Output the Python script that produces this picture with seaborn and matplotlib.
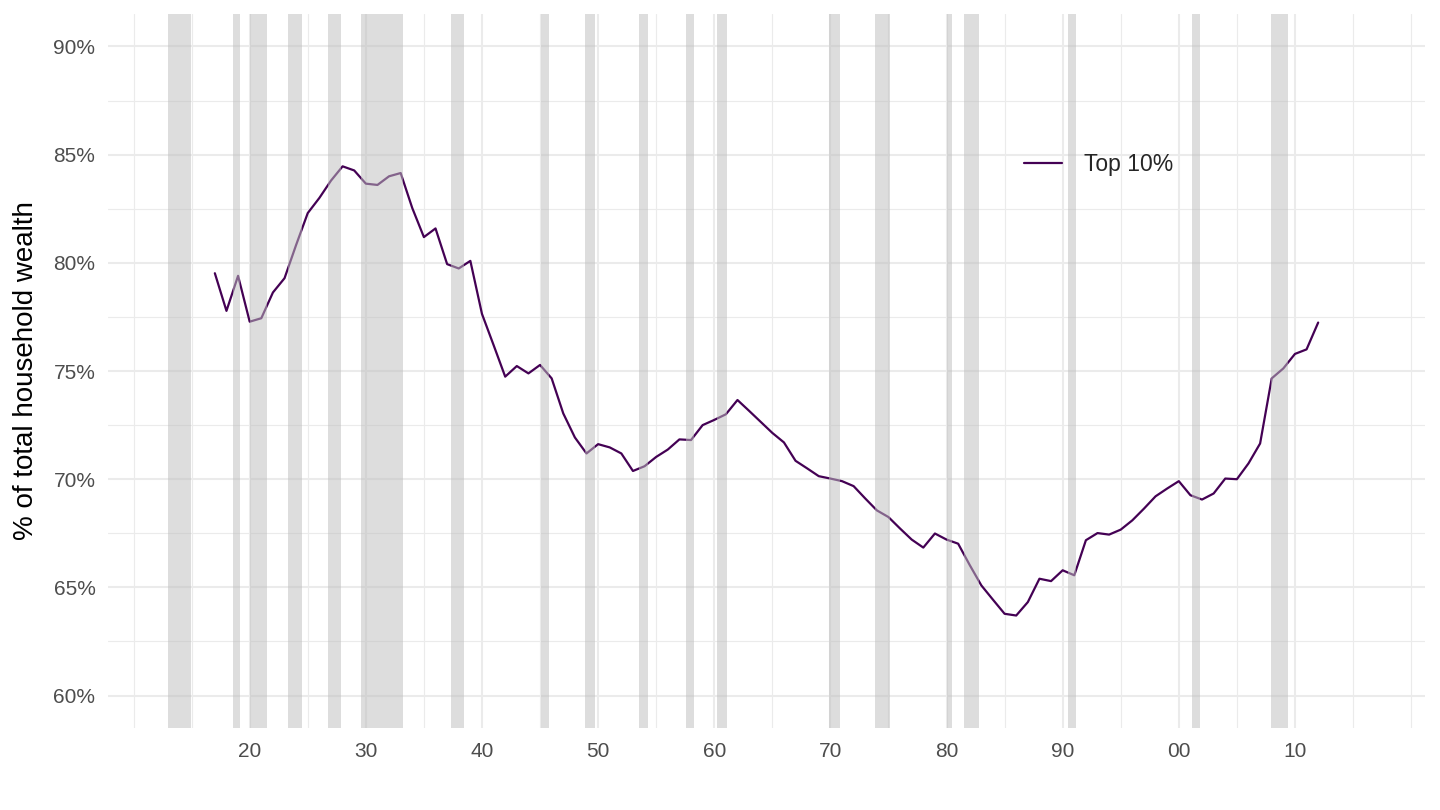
import matplotlib
matplotlib.use("Agg")
import matplotlib.pyplot as plt
from matplotlib.ticker import PercentFormatter
import seaborn as sns

# top 10% share of household wealth, 1917-2012
years = list(range(1917, 2013))
top10 = [
    0.7952, 0.7778, 0.7940, 0.7728, 0.7744, 0.7863, 0.7929, 0.8083, 0.8230, 0.8300,  # 1917-1926
    0.8380, 0.8446, 0.8427, 0.8366, 0.8360, 0.8400, 0.8415, 0.8253, 0.8119, 0.8159,  # 1927-1936
    0.7994, 0.7974, 0.8009, 0.7764, 0.7620, 0.7474, 0.7523, 0.7489, 0.7528, 0.7466,  # 1937-1946
    0.7304, 0.7193, 0.7119, 0.7162, 0.7147, 0.7119, 0.7038, 0.7060, 0.7103, 0.7137,  # 1947-1956
    0.7184, 0.7181, 0.7250, 0.7274, 0.7300, 0.7366, 0.7316, 0.7265, 0.7214, 0.7170,  # 1957-1966
    0.7085, 0.7050, 0.7014, 0.7003, 0.6991, 0.6968, 0.6911, 0.6856, 0.6825, 0.6772,  # 1967-1976
    0.6721, 0.6684, 0.6749, 0.6721, 0.6702, 0.6603, 0.6509, 0.6443, 0.6378, 0.6370,  # 1977-1986
    0.6432, 0.6540, 0.6529, 0.6579, 0.6556, 0.6718, 0.6751, 0.6744, 0.6767, 0.6810,  # 1987-1996
    0.6864, 0.6921, 0.6957, 0.6991, 0.6926, 0.6906, 0.6934, 0.7003, 0.7000, 0.7073,  # 1997-2006
    0.7165, 0.7466, 0.7512, 0.7579, 0.7600, 0.7724,                                  # 2007-2012
]

# NBER recessions (peak, trough)
rec_start = ["1913-01", "1918-08", "1920-01", "1923-05", "1926-10", "1929-08", "1937-05",
             "1945-02", "1948-11", "1953-07", "1957-08", "1960-04", "1969-12", "1973-11",
             "1980-01", "1981-07", "1990-07", "2001-03", "2007-12"]
rec_end = ["1914-12", "1919-03", "1921-07", "1924-07", "1927-11", "1933-03", "1938-06",
           "1945-10", "1949-10", "1954-05", "1958-04", "1961-02", "1970-11", "1975-03",
           "1980-07", "1982-11", "1991-03", "2001-11", "2009-06"]

major_years = list(range(1920, 2011, 10))
minor_years = [y for y in range(1910, 2021, 5) if y not in major_years]
y_major = [0.60, 0.65, 0.70, 0.75, 0.80, 0.85, 0.90]
y_minor = [0.625, 0.675, 0.725, 0.775, 0.825, 0.875]


def to_decimal(ym):
    y, m = ym.split("-")
    return int(y) + (int(m) - 1) / 12


sns.set_theme(style="white")
plt.rcParams["font.family"] = ["Liberation Sans", "DejaVu Sans"]

fig = plt.figure(figsize=(14.4, 8.1), dpi=100)
ax = fig.add_axes([0.075, 0.1012, 0.9146, 0.8815])

sns.lineplot(x=years, y=top10, color="#440154", lw=1.6, ax=ax, label="Top 10%", zorder=2)

for s, e in zip(rec_start, rec_end):
    ax.axvspan(to_decimal(s), to_decimal(e), color="#BEBEBE", alpha=0.52, lw=0, zorder=3)

ax.set_xlim(1907.8, 2021.2)
ax.set_ylim(0.585, 0.915)
ax.set_xticks(major_years)
ax.set_xticklabels([f"{y % 100:02d}" for y in major_years])
ax.set_xticks(minor_years, minor=True)
ax.set_yticks(y_major)
ax.set_yticks(y_minor, minor=True)
ax.yaxis.set_major_formatter(PercentFormatter(1.0, decimals=0))

ax.grid(which="major", color="#EBEBEB", lw=1.5, zorder=0)
ax.grid(which="minor", color="#EBEBEB", lw=0.85, zorder=0)
ax.set_axisbelow(True)
for sp in ax.spines.values():
    sp.set_visible(False)
ax.tick_params(which="both", length=0)
ax.tick_params(axis="y", labelsize=15, labelcolor="#4D4D4D", pad=9)
ax.tick_params(axis="x", labelsize=15, labelcolor="#4D4D4D", pad=10)

ax.set_xlabel("")
ax.set_ylabel("% of total household wealth", fontsize=20, color="black")
ax.yaxis.label.set_va("center")
ax.yaxis.set_label_coords(-0.062, 0.5)

ax.legend(loc="center left", bbox_to_anchor=(1013 / 1440, 1 - 165 / 810),
          bbox_transform=fig.transFigure, frameon=False, borderpad=0,
          handlelength=1.65, handletextpad=0.95, fontsize=16.5)

fig.savefig("out.png", dpi=100)
